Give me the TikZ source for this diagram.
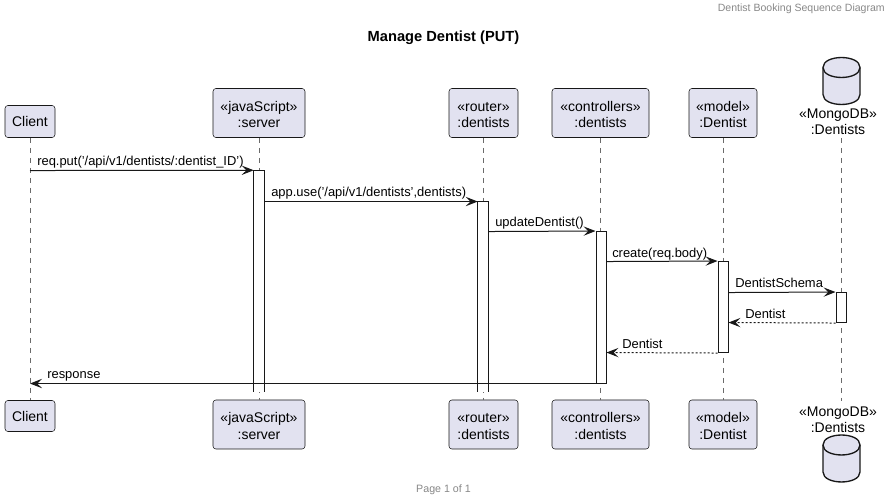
\documentclass[tikz,border=0pt]{standalone}
\usepackage{fontspec}
\setmainfont{Liberation Sans}
\usetikzlibrary{arrows.meta}
\definecolor{boxfill}{HTML}{E2E2F0}
\definecolor{ink}{HTML}{181818}
\definecolor{lifegray}{HTML}{6A6A6A}
\definecolor{headgray}{HTML}{888888}
\tikzset{
  x=0.75pt,y=-0.75pt,
  part/.style={draw=ink,fill=boxfill,rounded corners=2.2pt,line width=0.4pt,inner sep=0pt,align=center,font=\fontsize{10.5}{12.3}\selectfont,text=black},
  act/.style={draw=ink,fill=white,line width=0.75pt,inner sep=0pt,minimum width=7.5pt},
  actopen/.style={fill=white,inner sep=0pt,minimum width=7.5pt},
  actside/.style={draw=ink,line width=0.75pt},
  life/.style={draw=lifegray,line width=0.4pt,dash pattern=on 3.75pt off 3.75pt},
  msg/.style={draw=ink,line width=0.75pt,-{Stealth[length=9pt,width=7pt,inset=3.6pt,fill=ink]}},
  ret/.style={msg,dash pattern=on 1.5pt off 1.5pt},
  lbl/.style={font=\fontsize{9.7}{12}\selectfont,text=black,inner sep=0pt,anchor=base west},
  dbl/.style={align=center,font=\fontsize{10.5}{12.3}\selectfont,text=black,inner sep=0pt},
}
\newcommand{\dnstrut}{\rule{0pt}{10pt}}
\newcommand{\pbox}[5]{\node[part,minimum width=#3*0.75pt,minimum height=#4*0.75pt] (#1) at (#2) {#5};}
\newcommand{\actbar}[4]{\node[act,minimum height=#4*0.75pt-#3*0.75pt] (#1) at (#2,{(#3+#4)/2}) {};}
\newcommand{\actbaropen}[4]{\node[actopen,minimum height=#4*0.75pt-#3*0.75pt] (#1) at (#2,{(#3+#4)/2}) {};
  \draw[actside] (#1.south west) -- (#1.north west) -- (#1.north east) -- (#1.south east);}
\newcommand{\dbshape}[2]{%
  \path[draw=ink,fill=boxfill,line width=1pt]
    (#1-18.5,#2+10) .. controls (#1-18.5,#2-3.3) and (#1+18.5,#2-3.3) .. (#1+18.5,#2+10)
    -- (#1+18.5,#2+37) .. controls (#1+18.5,#2+50.3) and (#1-18.5,#2+50.3) .. (#1-18.5,#2+37) -- cycle;
  \path[draw=ink,line width=1pt]
    (#1-18.5,#2+10) .. controls (#1-18.5,#2+23.3) and (#1+18.5,#2+23.3) .. (#1+18.5,#2+10);}
\begin{document}
\begin{tikzpicture}
\useasboundingbox (0,0) rectangle (894,502);
\fill[white] (0,0) rectangle (894,502);
% title, header, footer
\node[font=\bfseries\fontsize{11}{13}\selectfont,inner sep=0pt] (title) at (443.5,38) {Manage Dentist (PUT)};
\node[font=\fontsize{7.9}{9}\selectfont,text=headgray,inner sep=0pt,anchor=east] (head) at (885,8.5) {Dentist Booking Sequence Diagram};
\node[font=\fontsize{8}{9}\selectfont,text=headgray,inner sep=0pt] (foot) at (443.5,490) {Page 1 of 1};
% participants
\pbox{clT}{30,121.5}{50}{32}{Client}
\pbox{clB}{30,416}{50}{31}{Client}
\pbox{srT}{259,113}{92}{49}{\dnstrut«javaScript»\\:server}
\pbox{srB}{259,424.5}{92}{49}{\dnstrut«javaScript»\\:server}
\pbox{roT}{483.5,113}{69}{49}{\dnstrut«router»\\:dentists}
\pbox{roB}{483.5,424.5}{69}{49}{\dnstrut«router»\\:dentists}
\pbox{coT}{600.5,113}{97}{49}{\dnstrut«controllers»\\:dentists}
\pbox{coB}{600.5,424.5}{97}{49}{\dnstrut«controllers»\\:dentists}
\pbox{moT}{723,113}{68}{49}{\dnstrut«model»\\:Dentist}
\pbox{moB}{723,424.5}{68}{49}{\dnstrut«model»\\:Dentist}
\dbshape{841.5}{57.5}
\node[dbl] (dbT) at (838,122) {«MongoDB»\\:Dentists};
\node[dbl] (dbB) at (838,420) {«MongoDB»\\:Dentists};
\dbshape{841.5}{435}
% lifelines
\draw[life] (clT.south) -- (clB.north);
\draw[life] (srT.south) -- (srB.north);
\draw[life] (roT.south) -- (roB.north);
\draw[life] (coT.south) -- (coB.north);
\draw[life] (moT.south) -- (moB.north);
\coordinate (dbTs) at (841.5,138);
\coordinate (dbBn) at (841.5,401);
\draw[life] (dbTs) -- (dbBn);
\begin{scope}[yshift=-0.4pt]
% activations
\actbaropen{aS}{259}{170}{391}
\actbaropen{aR}{483}{201}{391}
\actbar{aC}{601}{231}{383}
\actbar{aM}{723}{261}{352}
\actbar{aD}{841}{292}{322}
% message ends
\coordinate (c1) at (30,170);
\coordinate (c8) at (30,383);
\draw[msg] (c1) -- (aS.north west);
\path (aS.east |- 0,201) coordinate (s2) (aR.west |- 0,201) coordinate (e2);
\draw[msg] (s2) -- (e2);
\path (aR.east |- 0,231) coordinate (s3);
\draw[msg] (s3) -- (aC.north west);
\path (aC.east |- 0,261) coordinate (s4);
\draw[msg] (s4) -- (aM.north west);
\path (aM.east |- 0,292) coordinate (s5);
\draw[msg] (s5) -- (aD.north west);
\path (aM.east |- 0,322) coordinate (e6);
\draw[ret] (aD.south west) -- (e6);
\path (aC.east |- 0,352) coordinate (e7);
\draw[ret] (aM.south west) -- (e7);
\path (aC.west |- 0,383) coordinate (s8);
\draw[msg] (s8) -- (c8);
% labels
\node[lbl] (l1) at (37,165) {req.put('/api/v1/dentists/:dentist\_ID')};
\node[lbl] (l2) at (271,196) {app.use('/api/v1/dentists',dentists)};
\node[lbl] (l3) at (495,226) {updateDentist()};
\node[lbl] (l4) at (612,257) {create(req.body)};
\node[lbl] (l5) at (735,287) {DentistSchema};
\node[lbl] (l6) at (745,318) {Dentist};
\node[lbl] (l7) at (622,348) {Dentist};
\node[lbl] (l8) at (47,378) {response};
\end{scope}
\end{tikzpicture}
\end{document}
